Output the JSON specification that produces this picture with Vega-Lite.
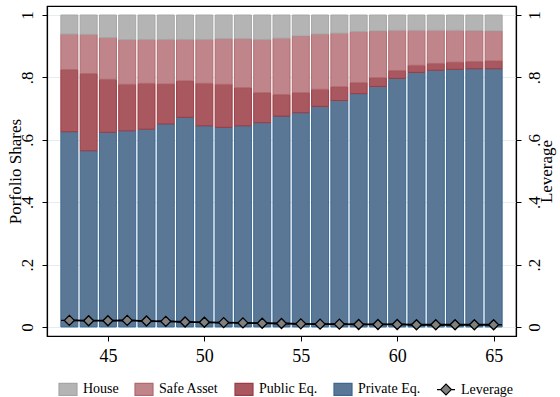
{
  "$schema": "https://vega.github.io/schema/vega-lite/v6.json",
  "autosize": "none",
  "width": 469,
  "height": 330,
  "padding": {"left": 47, "top": 6, "right": 44, "bottom": 61},
  "background": "white",
  "config": {
    "font": "Liberation Serif",
    "view": {"stroke": "black", "strokeWidth": 1.2},
    "axis": {
      "labelFont": "Liberation Serif",
      "titleFont": "Liberation Serif",
      "labelColor": "black",
      "titleColor": "black",
      "labelFontSize": 17,
      "titleFontSize": 17,
      "titleFontWeight": "normal",
      "domainColor": "black",
      "domainWidth": 1.2,
      "tickColor": "black",
      "tickSize": 5,
      "tickWidth": 1
    },
    "legend": {
      "labelFont": "Liberation Serif",
      "labelFontSize": 14,
      "labelColor": "black"
    }
  },
  "datasets": {
    "shares": [
      {"age": 43, "asset": "Private Eq.", "share": 0.626}, {"age": 43, "asset": "Public Eq.", "share": 0.199}, {"age": 43, "asset": "Safe Asset", "share": 0.114}, {"age": 43, "asset": "House", "share": 0.061},
      {"age": 44, "asset": "Private Eq.", "share": 0.565}, {"age": 44, "asset": "Public Eq.", "share": 0.247}, {"age": 44, "asset": "Safe Asset", "share": 0.126}, {"age": 44, "asset": "House", "share": 0.062},
      {"age": 45, "asset": "Private Eq.", "share": 0.624}, {"age": 45, "asset": "Public Eq.", "share": 0.170}, {"age": 45, "asset": "Safe Asset", "share": 0.134}, {"age": 45, "asset": "House", "share": 0.072},
      {"age": 46, "asset": "Private Eq.", "share": 0.629}, {"age": 46, "asset": "Public Eq.", "share": 0.149}, {"age": 46, "asset": "Safe Asset", "share": 0.143}, {"age": 46, "asset": "House", "share": 0.079},
      {"age": 47, "asset": "Private Eq.", "share": 0.634}, {"age": 47, "asset": "Public Eq.", "share": 0.147}, {"age": 47, "asset": "Safe Asset", "share": 0.141}, {"age": 47, "asset": "House", "share": 0.078},
      {"age": 48, "asset": "Private Eq.", "share": 0.651}, {"age": 48, "asset": "Public Eq.", "share": 0.128}, {"age": 48, "asset": "Safe Asset", "share": 0.143}, {"age": 48, "asset": "House", "share": 0.078},
      {"age": 49, "asset": "Private Eq.", "share": 0.672}, {"age": 49, "asset": "Public Eq.", "share": 0.117}, {"age": 49, "asset": "Safe Asset", "share": 0.133}, {"age": 49, "asset": "House", "share": 0.078},
      {"age": 50, "asset": "Private Eq.", "share": 0.645}, {"age": 50, "asset": "Public Eq.", "share": 0.136}, {"age": 50, "asset": "Safe Asset", "share": 0.141}, {"age": 50, "asset": "House", "share": 0.078},
      {"age": 51, "asset": "Private Eq.", "share": 0.640}, {"age": 51, "asset": "Public Eq.", "share": 0.138}, {"age": 51, "asset": "Safe Asset", "share": 0.146}, {"age": 51, "asset": "House", "share": 0.076},
      {"age": 52, "asset": "Private Eq.", "share": 0.645}, {"age": 52, "asset": "Public Eq.", "share": 0.122}, {"age": 52, "asset": "Safe Asset", "share": 0.157}, {"age": 52, "asset": "House", "share": 0.076},
      {"age": 53, "asset": "Private Eq.", "share": 0.655}, {"age": 53, "asset": "Public Eq.", "share": 0.096}, {"age": 53, "asset": "Safe Asset", "share": 0.171}, {"age": 53, "asset": "House", "share": 0.078},
      {"age": 54, "asset": "Private Eq.", "share": 0.676}, {"age": 54, "asset": "Public Eq.", "share": 0.069}, {"age": 54, "asset": "Safe Asset", "share": 0.181}, {"age": 54, "asset": "House", "share": 0.074},
      {"age": 55, "asset": "Private Eq.", "share": 0.687}, {"age": 55, "asset": "Public Eq.", "share": 0.064}, {"age": 55, "asset": "Safe Asset", "share": 0.182}, {"age": 55, "asset": "House", "share": 0.067},
      {"age": 56, "asset": "Private Eq.", "share": 0.707}, {"age": 56, "asset": "Public Eq.", "share": 0.055}, {"age": 56, "asset": "Safe Asset", "share": 0.177}, {"age": 56, "asset": "House", "share": 0.061},
      {"age": 57, "asset": "Private Eq.", "share": 0.726}, {"age": 57, "asset": "Public Eq.", "share": 0.044}, {"age": 57, "asset": "Safe Asset", "share": 0.172}, {"age": 57, "asset": "House", "share": 0.058},
      {"age": 58, "asset": "Private Eq.", "share": 0.748}, {"age": 58, "asset": "Public Eq.", "share": 0.035}, {"age": 58, "asset": "Safe Asset", "share": 0.164}, {"age": 58, "asset": "House", "share": 0.053},
      {"age": 59, "asset": "Private Eq.", "share": 0.771}, {"age": 59, "asset": "Public Eq.", "share": 0.028}, {"age": 59, "asset": "Safe Asset", "share": 0.150}, {"age": 59, "asset": "House", "share": 0.051},
      {"age": 60, "asset": "Private Eq.", "share": 0.797}, {"age": 60, "asset": "Public Eq.", "share": 0.025}, {"age": 60, "asset": "Safe Asset", "share": 0.129}, {"age": 60, "asset": "House", "share": 0.049},
      {"age": 61, "asset": "Private Eq.", "share": 0.816}, {"age": 61, "asset": "Public Eq.", "share": 0.023}, {"age": 61, "asset": "Safe Asset", "share": 0.112}, {"age": 61, "asset": "House", "share": 0.049},
      {"age": 62, "asset": "Private Eq.", "share": 0.823}, {"age": 62, "asset": "Public Eq.", "share": 0.022}, {"age": 62, "asset": "Safe Asset", "share": 0.106}, {"age": 62, "asset": "House", "share": 0.049},
      {"age": 63, "asset": "Private Eq.", "share": 0.826}, {"age": 63, "asset": "Public Eq.", "share": 0.023}, {"age": 63, "asset": "Safe Asset", "share": 0.102}, {"age": 63, "asset": "House", "share": 0.049},
      {"age": 64, "asset": "Private Eq.", "share": 0.828}, {"age": 64, "asset": "Public Eq.", "share": 0.023}, {"age": 64, "asset": "Safe Asset", "share": 0.099}, {"age": 64, "asset": "House", "share": 0.050},
      {"age": 65, "asset": "Private Eq.", "share": 0.828}, {"age": 65, "asset": "Public Eq.", "share": 0.025}, {"age": 65, "asset": "Safe Asset", "share": 0.096}, {"age": 65, "asset": "House", "share": 0.051}
    ],
    "leverage": [
      {"age": 43, "asset": "Leverage", "share": 0.021}, {"age": 44, "asset": "Leverage", "share": 0.020},
      {"age": 45, "asset": "Leverage", "share": 0.020}, {"age": 46, "asset": "Leverage", "share": 0.021},
      {"age": 47, "asset": "Leverage", "share": 0.019}, {"age": 48, "asset": "Leverage", "share": 0.018},
      {"age": 49, "asset": "Leverage", "share": 0.016}, {"age": 50, "asset": "Leverage", "share": 0.015},
      {"age": 51, "asset": "Leverage", "share": 0.014}, {"age": 52, "asset": "Leverage", "share": 0.013},
      {"age": 53, "asset": "Leverage", "share": 0.012}, {"age": 54, "asset": "Leverage", "share": 0.011},
      {"age": 55, "asset": "Leverage", "share": 0.010}, {"age": 56, "asset": "Leverage", "share": 0.009},
      {"age": 57, "asset": "Leverage", "share": 0.009}, {"age": 58, "asset": "Leverage", "share": 0.008},
      {"age": 59, "asset": "Leverage", "share": 0.008}, {"age": 60, "asset": "Leverage", "share": 0.008},
      {"age": 61, "asset": "Leverage", "share": 0.007}, {"age": 62, "asset": "Leverage", "share": 0.007},
      {"age": 63, "asset": "Leverage", "share": 0.007}, {"age": 64, "asset": "Leverage", "share": 0.007},
      {"age": 65, "asset": "Leverage", "share": 0.007}
    ]
  },
  "layer": [
    {
      "data": {"name": "shares"},
      "transform": [
        {"calculate": "indexof(['Private Eq.', 'Public Eq.', 'Safe Asset', 'House'], datum.asset)", "as": "stackOrder"}
      ],
      "mark": {"type": "bar", "width": 17, "strokeWidth": 1},
      "encoding": {
        "x": {
          "field": "age", "type": "quantitative",
          "scale": {"domain": [42.1, 65.9], "nice": false, "zero": false},
          "axis": {"values": [45, 50, 55, 60, 65], "grid": false, "title": null, "labelFontSize": 18, "labelPadding": 6}
        },
        "y": {
          "field": "share", "type": "quantitative", "stack": "zero",
          "scale": {"domain": [-0.029, 1.029], "nice": false, "zero": false},
          "axis": {
            "values": [0, 0.2, 0.4, 0.6, 0.8, 1],
            "title": "Porfolio Shares",
            "labelExpr": "datum.value == 0 ? '0' : datum.value == 1 ? '1' : replace(format(datum.value, '.1f'), '0.', '.')",
            "labelAngle": -90, "labelAlign": "center", "labelBaseline": "bottom", "labelPadding": 6,
            "grid": true, "gridColor": "#e4eef0", "gridWidth": 1,
            "titlePadding": -6
          }
        },
        "order": {"field": "stackOrder", "type": "quantitative", "sort": "ascending"},
        "fill": {
          "field": "asset", "type": "nominal",
          "scale": {
            "domain": ["House", "Safe Asset", "Public Eq.", "Private Eq.", "Leverage"],
            "range": ["#b4b4b4", "#c0858a", "#a8585e", "#5a7896", "#808080"]
          },
          "legend": {
            "title": null, "orient": "none", "direction": "horizontal",
            "legendX": 11, "legendY": 373, "symbolSize": 324, "symbolStrokeWidth": 1.2,
            "labelOffset": 5, "columnPadding": 13
          }
        },
        "stroke": {
          "field": "asset", "type": "nominal",
          "scale": {
            "domain": ["House", "Safe Asset", "Public Eq.", "Private Eq.", "Leverage"],
            "range": ["#a6a6a6", "#b06a70", "#9c3c46", "#3d6890", "#000000"]
          },
          "legend": {
            "title": null, "orient": "none", "direction": "horizontal",
            "legendX": 11, "legendY": 373, "symbolSize": 324, "symbolStrokeWidth": 1.2,
            "labelOffset": 5, "columnPadding": 13
          }
        }
      }
    },
    {
      "data": {"name": "leverage"},
      "layer": [
        {
          "mark": {"type": "line", "color": "black", "strokeWidth": 1.8},
          "encoding": {
            "x": {"field": "age", "type": "quantitative"},
            "y": {"field": "share", "type": "quantitative"}
          }
        },
        {
          "mark": {"type": "point", "filled": true, "size": 278, "strokeWidth": 1.3, "opacity": 1},
          "encoding": {
            "x": {"field": "age", "type": "quantitative"},
            "y": {"field": "share", "type": "quantitative"},
            "fill": {"field": "asset", "type": "nominal"},
            "stroke": {"field": "asset", "type": "nominal"},
            "shape": {
              "field": "asset", "type": "nominal",
              "scale": {
                "domain": ["House", "Safe Asset", "Public Eq.", "Private Eq.", "Leverage"],
                "range": ["M-1,-0.667H1V0.667H-1Z", "M-1,-0.667H1V0.667H-1Z", "M-1,-0.667H1V0.667H-1Z", "M-1,-0.667H1V0.667H-1Z", "M-1,0H-0.6M0.6,0H1M-0.6,0L0,-0.6L0.6,0L0,0.6Z"]
              },
              "legend": {
                "title": null, "orient": "none", "direction": "horizontal",
                "legendX": 11, "legendY": 373, "symbolSize": 324, "symbolStrokeWidth": 1.2,
                "labelOffset": 5, "columnPadding": 13
              }
            }
          }
        }
      ],
      "encoding": {
        "y": {
          "field": "share", "type": "quantitative",
          "scale": {"domain": [-0.029, 1.029], "nice": false, "zero": false},
          "axis": {
            "orient": "right",
            "values": [0, 0.2, 0.4, 0.6, 0.8, 1],
            "title": "Leverage",
            "titleAngle": -90,
            "titleBaseline": "top",
            "titleAlign": "center",
            "labelExpr": "datum.value == 0 ? '0' : datum.value == 1 ? '1' : replace(format(datum.value, '.1f'), '0.', '.')",
            "labelAngle": -90, "labelAlign": "center", "labelBaseline": "top", "labelPadding": 5,
            "grid": false,
            "titlePadding": -4
          }
        }
      }
    }
  ],
  "resolve": {"scale": {"y": "independent"}}
}
